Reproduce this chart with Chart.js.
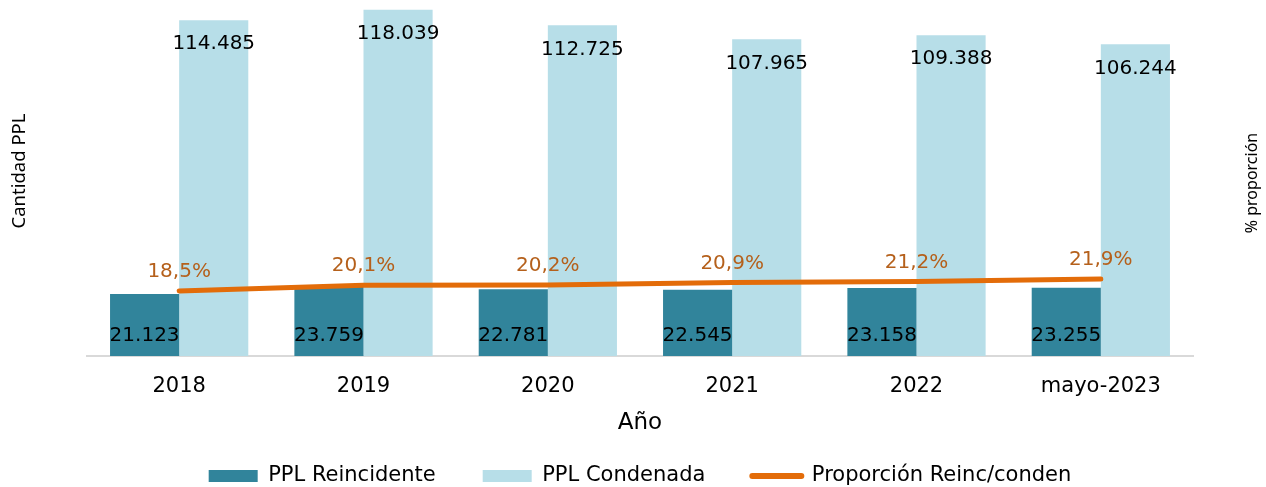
<!DOCTYPE html>
<html>
<head>
<meta charset="utf-8">
<script src="https://cdn.jsdelivr.net/npm/chart.js@4"></script>
<style>
  html, body { margin: 0; padding: 0; background: #fff; }
  #wrap { width: 1266px; height: 487px; }
</style>
</head>
<body>
<div id="wrap"><canvas id="chartPPL"></canvas></div>
<script>
// Datos
const anios = ['2018', '2019', '2020', '2021', '2022', 'mayo-2023'];
const reincidentes = [21123, 23759, 22781, 22545, 23158, 23255];
const condenadas = [114485, 118039, 112725, 107965, 109388, 106244];
const proporcion = [18.5, 20.1, 20.2, 20.9, 21.2, 21.9];

const miles = v => String(v).replace(/\B(?=(\d{3})+(?!\d))/g, '.');
const pct = v => v.toFixed(1).replace('.', ',') + '%';

// etiquetas de datos y titulos de ejes
const etiquetas = {
  id: 'etiquetas',
  afterDatasetsDraw(chart) {
    const ctx = chart.ctx;
    const area = chart.chartArea;
    ctx.save();
    ctx.textAlign = 'center';
    ctx.textBaseline = 'middle';
    ctx.font = '20px "DejaVu Sans"';
    ctx.fillStyle = '#000';
    chart.getDatasetMeta(0).data.forEach((bar, i) => {
      ctx.fillText(miles(reincidentes[i]), bar.x, bar.base - 20);
    });
    chart.getDatasetMeta(1).data.forEach((bar, i) => {
      ctx.fillText(miles(condenadas[i]), bar.x, bar.y + 24);
    });
    ctx.fillStyle = '#B5601B';
    chart.getDatasetMeta(2).data.forEach((pt, i) => {
      ctx.fillText(pct(proporcion[i]), pt.x, pt.y - 19);
    });

    ctx.fillStyle = '#000';
    ctx.font = '23px "DejaVu Sans"';
    ctx.fillText('Año', (area.left + area.right) / 2, area.bottom + 67);

    ctx.font = '18.5px "Noto Sans"';
    ctx.save();
    ctx.translate(20, 171);
    ctx.rotate(-Math.PI / 2);
    ctx.fillText('Cantidad PPL', 0, 0);
    ctx.restore();
    ctx.font = '16px "Noto Sans"';
    ctx.translate(1252, 183);
    ctx.rotate(-Math.PI / 2);
    ctx.fillText('% proporción', 0, 0);
    ctx.restore();
  }
};

new Chart(document.getElementById('chartPPL'), {
  data: {
    labels: anios,
    datasets: [{
      type: 'bar',
      label: 'PPL Reincidente',
      data: reincidentes,
      backgroundColor: '#31849B',
      yAxisID: 'y',
      order: 2
    }, {
      type: 'bar',
      label: 'PPL Condenada',
      data: condenadas,
      backgroundColor: '#B7DEE8',
      yAxisID: 'y',
      order: 2
    }, {
      type: 'line',
      label: 'Proporción Reinc/conden',
      data: proporcion,
      borderColor: '#E36C09',
      backgroundColor: '#E36C09',
      borderWidth: 5,
      borderCapStyle: 'round',
      pointRadius: 0,
      tension: 0,
      fill: false,
      yAxisID: 'y2',
      order: 1
    }]
  },
  options: {
    responsive: true,
    maintainAspectRatio: false,
    animation: false,
    layout: { padding: { left: 87, right: 73, top: 4, bottom: -9.5 } },
    datasets: {
      bar: { categoryPercentage: 0.75, barPercentage: 1.0 }
    },
    scales: {
      x: {
        grid: { display: false, drawTicks: false },
        border: { display: true, color: '#D9D9D9', width: 2 },
        ticks: { color: '#000', font: { family: 'DejaVu Sans', size: 21 }, padding: 18 },
        afterFit(scale) { scale.height = 62.5; }
      },
      y: { display: false, min: 0, max: 120000 },
      y2: { display: false, min: 0, max: 100, position: 'right' }
    },
    plugins: {
      tooltip: { enabled: false },
      legend: {
        position: 'bottom',
        labels: {
          color: '#000',
          font: { family: 'DejaVu Sans', size: 21 },
          usePointStyle: true,
          pointStyleWidth: 49,
          boxHeight: 12,
          padding: 47,
          generateLabels(chart) {
            return chart.data.datasets.map((ds, i) => ({
              text: ds.label,
              fillStyle: ds.backgroundColor,
              strokeStyle: ds.type === 'line' ? ds.borderColor : ds.backgroundColor,
              lineWidth: ds.type === 'line' ? 6 : 0,
              lineCap: 'round',
              pointStyle: ds.type === 'line' ? 'line' : 'rect',
              datasetIndex: i,
              hidden: false
            }));
          }
        }
      }
    }
  },
  plugins: [etiquetas]
});
</script>
</body>
</html>
